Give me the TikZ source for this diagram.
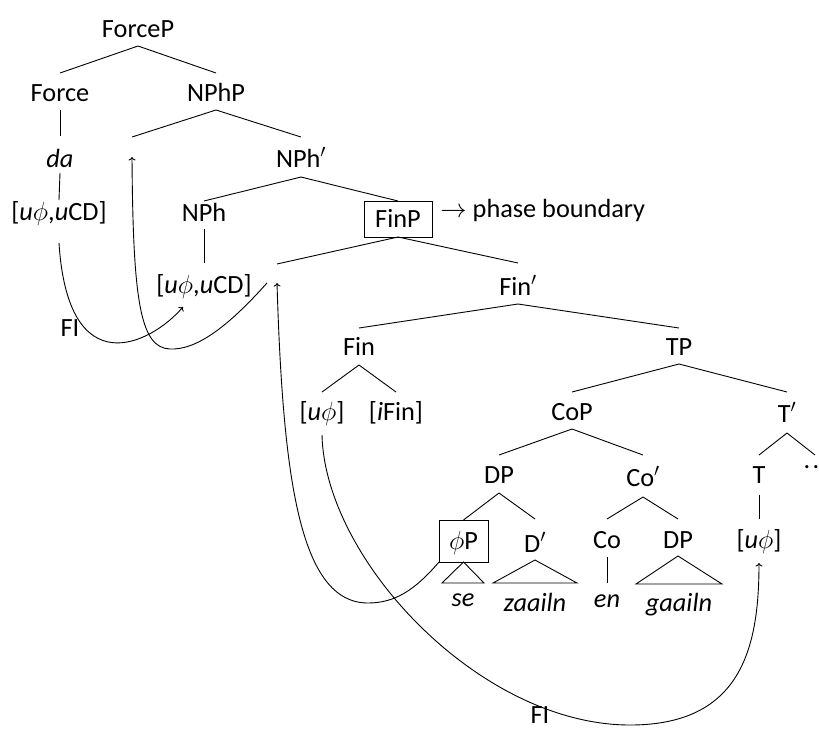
\RequirePackage{fix-cm}
\documentclass[tikz,border=0pt]{standalone}
\usepackage{fontspec}
\setmainfont{Carlito}
\usetikzlibrary{arrows.meta,calc}
\begin{document}
\begin{tikzpicture}[x=1pt,y=-1pt,
  every node/.style={font=\fontsize{26.3pt}{30pt}\selectfont},
  line width=0.9pt,
  >={To[length=3.5pt,width=7pt]},
  lbl/.style={inner sep=0pt, outer sep=0pt, anchor=base, text height=28pt, text depth=9pt},
  boxed/.style={draw, inner sep=0pt, outer sep=0pt, anchor=center, text height=17pt, text depth=0pt}]
\useasboundingbox (0,0) rectangle (819,729);
% tree nodes
\node[lbl] (ForceP) at (138,37) {ForceP};
\node[lbl] (Force) at (60,101) {Force};
\node[lbl] (NPhP) at (216,101) {NPhP};
\node[lbl, text height=31pt, text depth=6pt] (da) at (60,167) {\textit{da}};
\node[lbl, text height=30pt, text depth=10pt] (NPhbar) at (301,167) {NPh$'$};
\node[lbl, text height=20pt, text depth=23pt] (uCDa) at (59,220) {[\textit{u}$\phi$,\textit{u}CD]};
\node[lbl, text height=20pt, text depth=8pt] (NPh) at (204,221) {NPh};
\node[boxed, minimum width=68pt, minimum height=36pt] (FinP) at (398,219) {FinP};
\node[inner sep=0pt, anchor=base west] (phase) at (440,217) {$\rightarrow$ phase boundary};
\node[lbl, text height=30pt, text depth=8pt] (uCDb) at (204,293) {[\textit{u}$\phi$,\textit{u}CD]};
\node[lbl, text height=32pt, text depth=9pt] (Finbar) at (518,295) {Fin$'$};
\node[lbl, text height=27pt, text depth=10pt] (Fin) at (359,355) {Fin};
\node[lbl, text height=27pt, text depth=9pt] (TP) at (679,355) {TP};
\node[lbl, text height=28pt, text depth=15pt] (uphiA) at (322,420) {[\textit{u}$\phi$]};
\node[lbl, text height=28pt, text depth=9pt] (iFin) at (396,420) {[\textit{i}Fin]};
\node[lbl, text height=28pt, text depth=9pt] (CoP) at (572,420) {CoP};
\node[lbl, text height=30pt, text depth=11pt] (Tbar) at (787,422) {T$'$};
\node[lbl, text height=28pt, text depth=10pt] (DPa) at (499,483) {DP};
\node[lbl, text height=31pt, text depth=11pt] (Cobar) at (643,486) {Co$'$};
\node[lbl, text height=28pt, text depth=12pt] (T) at (759,483) {T};
\node[lbl, text height=13pt, text depth=0pt] (dots) at (815,468) {.\kern2.4pt.\kern7pt};
\node[boxed, minimum width=49pt, minimum height=42pt] (phiP) at (463.5,541) {$\phi$P};
\node[lbl, text height=33pt, text depth=8pt] (Dbar) at (535,552) {D$'$};
\node[lbl, text height=29pt, text depth=9pt] (Co) at (607,548) {Co};
\node[lbl, text height=29pt, text depth=8pt] (DPb) at (678,548) {DP};
\node[lbl, text height=29pt, text depth=15pt] (uphiT) at (759,548) {[\textit{u}$\phi$]};
\node[lbl, text height=23pt, text depth=0pt] (se) at (463,606) {\textit{se}};
\node[lbl, text height=28pt, text depth=0pt] (zaailn) at (535,611) {\textit{zaailn}};
\node[lbl, text height=24pt, text depth=0pt] (en) at (607,607) {\textit{en}};
\node[lbl, text height=27pt, text depth=0pt] (gaailn) at (679,611) {\textit{gaailn}};
\node[inner sep=0pt, anchor=base] (FIa) at (70,336) {FI};
\node[inner sep=0pt, anchor=base] (FIb) at (540,723) {FI};
% free ends
\coordinate (t1) at (132,137);
\coordinate (t1tip) at (132,157);
\coordinate (t2) at (277,264);
\coordinate (t2tip) at (277,283);
\coordinate (c1e) at (183,307);
\coordinate (c2s) at (267,283);
% branches
\draw (ForceP.south) -- (Force.north);
\draw (ForceP.south) -- (NPhP.north);
\draw (Force.south) -- (da.north);
\draw (da.south) -- (uCDa.north);
\draw (NPhP.south) -- (t1);
\draw (NPhP.south) -- (NPhbar.north);
\draw (NPhbar.south) -- (NPh.north);
\draw (NPhbar.south) -- (FinP.north);
\draw (NPh.south) -- (uCDb.north);
\draw (FinP.south) -- (t2);
\draw (FinP.south) -- (Finbar.north);
\draw (Finbar.south) -- (Fin.north);
\draw (Finbar.south) -- (TP.north);
\draw (Fin.south) -- (uphiA.north);
\draw (Fin.south) -- (iFin.north);
\draw (TP.south) -- (CoP.north);
\draw (TP.south) -- (Tbar.north);
\draw (CoP.south) -- (DPa.north);
\draw (CoP.south) -- (Cobar.north);
\draw (Tbar.south) -- (T.north);
\draw (Tbar.south) -- (dots.north);
\draw (T.south) -- (uphiT.north);
\draw (DPa.south) -- (phiP.north);
\draw (DPa.south) -- (Dbar.north);
\draw (Cobar.south) -- (Co.north);
\draw (Cobar.south) -- (DPb.north);
\draw (Co.south) -- (en.north);
% triangles
\draw (phiP.south) -- ($(se.north)+(-21,0)$) -- ($(se.north)+(21,0)$) -- cycle;
\draw (Dbar.south) -- ($(zaailn.north)+(-42,0)$) -- ($(zaailn.north)+(42,0)$) -- cycle;
\draw (DPb.south) -- ($(gaailn.north)+(-43,0)$) -- ($(gaailn.north)+(43,0)$) -- cycle;
% movement / feature inheritance arrows
\draw[->] (uCDa.south) .. controls (68,385) and (150,345) .. (c1e);
\draw[->] (c2s) .. controls (225,330) and (195,350) .. (170,349) .. controls (140,348) and (133,300) .. (t1tip);
\draw[->] (phiP.south west) .. controls (415,590) and (395,603) .. (368,603) .. controls (300,603) and (283,480) .. (t2tip);
\draw[->] (uphiA.south) .. controls (325,560) and (480,725) .. (630,725) .. controls (740,725) and (759,650) .. (uphiT.south);
\end{tikzpicture}
\end{document}
